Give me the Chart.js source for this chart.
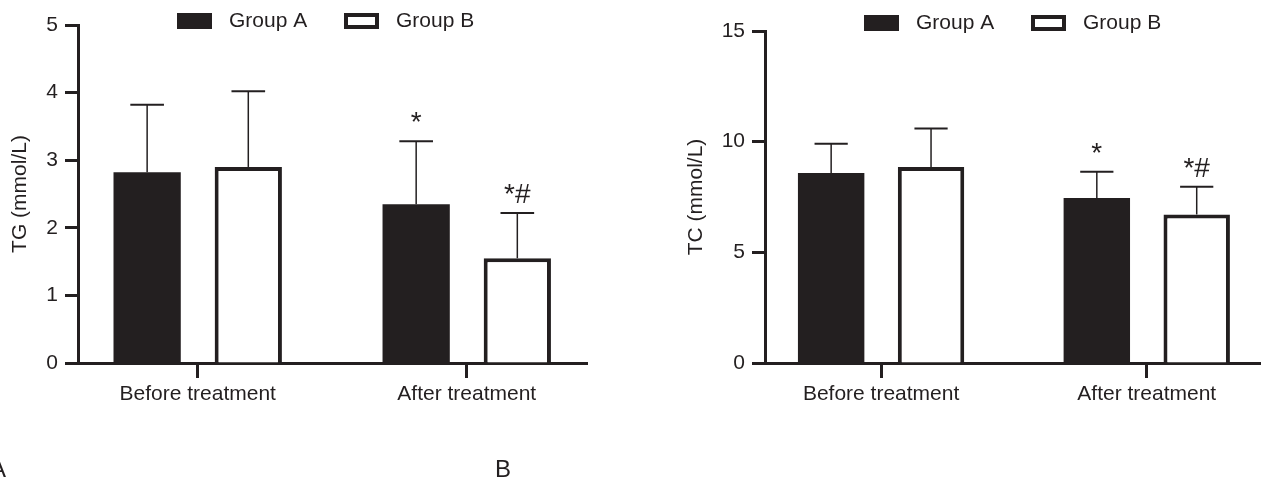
<!DOCTYPE html>
<html>
<head>
<meta charset="utf-8">
<script src="https://cdn.jsdelivr.net/npm/chart.js@4/dist/chart.umd.min.js"></script>
<style>
  html, body { margin: 0; padding: 0; background: #fff; }
  body { width: 1261px; height: 484px; position: relative; overflow: hidden; font-family: "Liberation Sans", Arial, sans-serif; }
  .panel { position: absolute; top: 0; height: 484px; }
  #panelA { left: 0; width: 590px; }
  #panelB { left: 676px; width: 585px; }
  .tag { position: absolute; top: 457px; font-size: 24px; line-height: 1; color: #231f20; }
</style>
</head>
<body>
<div class="panel" id="panelA"><canvas id="tg-chart"></canvas></div>
<div class="panel" id="panelB"><canvas id="tc-chart"></canvas></div>
<div class="tag" style="left:-10px">A</div>
<div class="tag" style="left:495px">B</div>
<script>
// values (mean, upward SD)
const categories = ["Before treatment", "After treatment"];
const seriesNames = ["Group A", "Group B"];

const tgGroupA = [2.82, 2.35];
const tgGroupB = [2.90, 1.55];
const tgSdA = [1.00, 0.93];
const tgSdB = [1.12, 0.67];
const tgMarksA = ["", "*"];
const tgMarksB = ["", "*#"];
const tgTicks = [0, 1, 2, 3, 4, 5];

const tcGroupA = [8.58, 7.45];
const tcGroupB = [8.85, 6.71];
const tcSdA = [1.33, 1.19];
const tcSdB = [1.75, 1.25];
const tcMarksA = ["", "*"];
const tcMarksB = ["", "*#"];
const tcTicks = [0, 5, 10, 15];

const ink = "#231f20";
const family = '"Liberation Sans", Arial, sans-serif';
Chart.defaults.font.family = family;
Chart.defaults.color = ink;

const errorBars = {
  id: "errorBars",
  afterDatasetsDraw(chart, args, opts) {
    const ctx = chart.ctx;
    const yScale = chart.scales.y;
    chart.data.datasets.forEach((ds, d) => {
      const meta = chart.getDatasetMeta(d);
      meta.data.forEach((bar, i) => {
        const top = yScale.getPixelForValue(ds.data[i].y + opts.errors[d][i]);
        const half = bar.width / 4;
        ctx.save();
        ctx.strokeStyle = ink;
        ctx.lineWidth = 1.5;
        ctx.beginPath();
        ctx.moveTo(bar.x, bar.y);
        ctx.lineTo(bar.x, top);
        ctx.stroke();
        ctx.lineWidth = 2;
        ctx.beginPath();
        ctx.moveTo(bar.x - half, top);
        ctx.lineTo(bar.x + half, top);
        ctx.stroke();
        const mark = opts.marks[d][i];
        if (mark) {
          ctx.fillStyle = ink;
          ctx.font = "28px " + family;
          ctx.textAlign = "center";
          ctx.textBaseline = "alphabetic";
          ctx.fillText(mark, bar.x, top - 10);
        }
        ctx.restore();
      });
    });
  }
};

const boxLegend = {
  id: "boxLegend",
  afterDraw(chart, args, opts) {
    const ctx = chart.ctx;
    chart.data.datasets.forEach((ds, d) => {
      const x = chart.chartArea.left + opts.offsets[d];
      const y = opts.top;
      ctx.save();
      if (ds.borderWidth) {
        ctx.fillStyle = "#fff";
        ctx.fillRect(x, y, 35, 16);
        ctx.strokeStyle = ink;
        ctx.lineWidth = 4;
        ctx.strokeRect(x + 2, y + 2, 31, 12);
      } else {
        ctx.fillStyle = ink;
        ctx.fillRect(x, y, 35, 16);
      }
      ctx.fillStyle = ink;
      ctx.font = "21px " + family;
      ctx.textBaseline = "middle";
      ctx.fillText(ds.label, x + 52, y + 8);
      ctx.restore();
    });
  }
};

function makeChart(id, setup) {
  const font = { size: 21, family: family };
  const data = {
    datasets: [
      {
        label: seriesNames[0],
        data: categories.map((c, i) => ({ x: i, y: setup.a[i] })),
        backgroundColor: ink,
        borderWidth: 0,
        categoryPercentage: 0.752,
        barPercentage: 0.665,
      },
      {
        label: seriesNames[1],
        data: categories.map((c, i) => ({ x: i, y: setup.b[i] })),
        backgroundColor: "#fff",
        borderColor: ink,
        borderWidth: 4,
        borderSkipped: "start",
        categoryPercentage: 0.752,
        barPercentage: 0.665,
      },
    ],
  };
  const config = {
    type: "bar",
    data: data,
    plugins: [errorBars, boxLegend],
    options: {
      responsive: true,
      maintainAspectRatio: false,
      animation: false,
      events: [],
      layout: { padding: { top: setup.top, right: setup.right, left: 0, bottom: 0 } },
      plugins: {
        legend: { display: false },
        tooltip: { enabled: false },
        errorBars: { errors: [setup.sdA, setup.sdB], marks: [setup.marksA, setup.marksB] },
        boxLegend: { offsets: [99, 266], top: setup.legendTop },
      },
      scales: {
        x: {
          type: "linear",
          offset: false,
          min: setup.xMin,
          max: setup.xMax,
          afterBuildTicks: (s) => { s.ticks = categories.map((c, i) => ({ value: i })); },
          afterFit: (s) => { s.height = 121; },
          grid: { offset: false, drawOnChartArea: false, drawTicks: true, tickLength: 15, tickWidth: 3, tickColor: ink },
          border: { display: true, width: 3, color: ink },
          ticks: { callback: (v) => categories[v], font: font, color: ink, padding: 4, maxRotation: 0, autoSkip: false },
        },
        y: {
          min: setup.ticks[0],
          max: setup.ticks[setup.ticks.length - 1],
          afterBuildTicks: (s) => { s.ticks = setup.ticks.map((v) => ({ value: v })); },
          afterFit: (s) => { s.width = setup.yWidth; },
          title: { display: true, text: setup.title, font: font, color: ink, padding: { top: 8, bottom: 0 } },
          grid: { drawOnChartArea: false, tickLength: 13, tickWidth: 3, tickColor: ink },
          border: { width: 3, color: ink },
          ticks: { font: font, color: ink, padding: 7 },
        },
      },
    },
  };
  return new Chart(id, config);
}

makeChart("tg-chart", {
  a: tgGroupA, b: tgGroupB, sdA: tgSdA, sdB: tgSdB, marksA: tgMarksA, marksB: tgMarksB,
  ticks: tgTicks, title: "TG (mmol/L)",
  top: 25, right: 3, yWidth: 78, legendTop: 13, xMin: -0.445, xMax: 1.447,
});

makeChart("tc-chart", {
  a: tcGroupA, b: tcGroupB, sdA: tcSdA, sdB: tcSdB, marksA: tcMarksA, marksB: tcMarksB,
  ticks: tcTicks, title: "TC (mmol/L)",
  top: 31, right: 0, yWidth: 89, legendTop: 15, xMin: -0.437, xMax: 1.43,
});
</script>
</body>
</html>
